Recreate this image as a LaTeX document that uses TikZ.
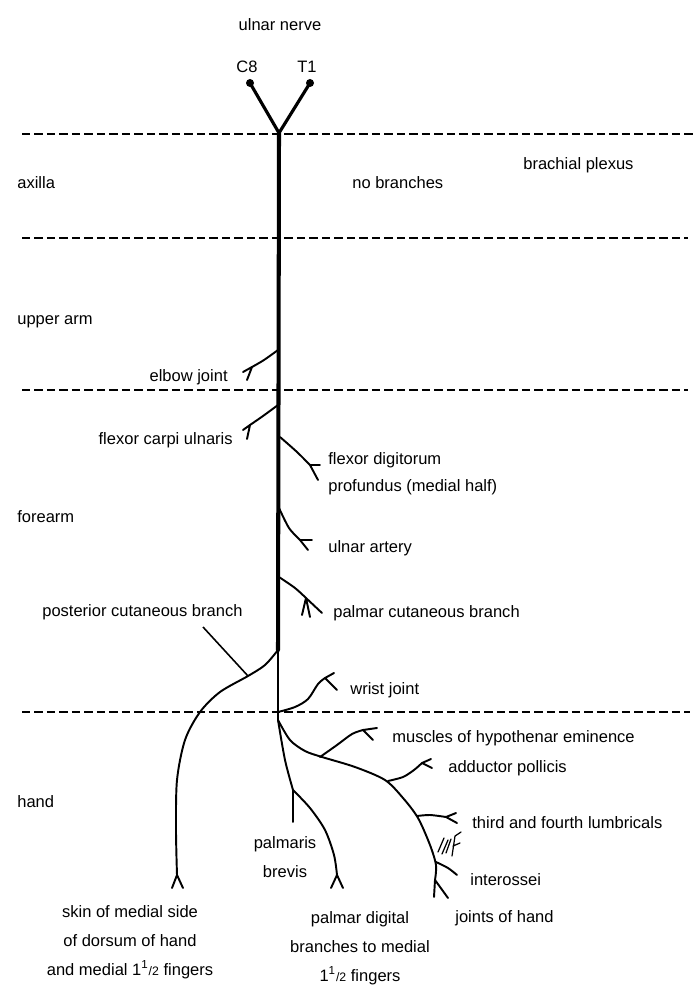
\documentclass[tikz,border=0pt]{standalone}
\usepackage{fontspec}
\setmainfont{Liberation Sans}
\usetikzlibrary{positioning}
\newcommand{\onehalf}{1\textsuperscript{1}{\scriptsize/2}}

\begin{document}
\begin{tikzpicture}[x=0.02cm,y=-0.02cm,inner sep=0pt,
    font=\fontsize{9.4}{16.4}\selectfont,
    trunk/.style={line width=2.3pt,line cap=round},
    root/.style={line width=1.8pt,line cap=round},
    twig/.style={line width=1.1pt,line cap=round,line join=round},
    level/.style={line width=1.2pt,dash pattern=on 0.17cm off 0.08cm},
    lab/.style={anchor=west},
    labr/.style={anchor=east}]
\useasboundingbox (0,0) rectangle (699,986);

% regions
\foreach \y/\e in {134/693,238/688,390/688,712/690}
    \draw[level] (22,\y) -- (\e,\y);

% roots and trunk
\coordinate (c8dot) at (250,83);
\coordinate (t1dot) at (310,83);
\coordinate (join) at (279,133);
\coordinate (mid) at (278,650);
\coordinate (wristpt) at (278,712);
\coordinate (split) at (278,720);
\fill (c8dot) circle (0.08cm);
\fill (t1dot) circle (0.08cm);
\draw[root] (c8dot) -- (join) -- (t1dot);
\draw[trunk] (join) -- (mid);
\draw[twig,line width=1.6pt] (mid) -- (split);

% forearm branches
\draw[twig] plot[smooth] coordinates {(278,350) (264,360) (252,367)};
\draw[twig] (252,367) -- (243,372) (252,367) -- (247,380);
\draw[twig] plot[smooth] coordinates {(278,405) (263,416) (250,425)};
\draw[twig] (250,425) -- (243,430) (250,425) -- (247,439);
\draw[twig] plot[smooth] coordinates {(280,437) (297,452) (310,465)};
\draw[twig] (310,465) -- (320,465) (310,465) -- (318,480);
\draw[twig] plot[smooth] coordinates {(279,508) (289,528) (300,540)};
\draw[twig] (300,540) -- (312,540) (300,540) -- (308,550);
\draw[twig] plot[smooth] coordinates {(279,577) (295,588) (306,598)};
\draw[twig] (306,598) -- (302,615) (306,598) -- (310,617) (306,598) -- (322,613);

% posterior cutaneous branch
\coordinate (pcb) at (248,676);
\draw[twig] plot[smooth] coordinates {(mid) (265,665) (pcb) (220,692) (200,712)
    (185,740) (177,780) (176,830) (177,875)};
\draw[twig] (177,875) -- (172,888) (177,875) -- (183,888);

% wrist joint
\draw[twig] plot[smooth] coordinates {(wristpt) (295,707) (308,699) (318,684) (325,678)};
\draw[twig] (325,678) -- (334,673) (325,678) -- (337,690);

% superficial branch
\coordinate (sup) at (293,790);
\draw[twig] plot[smooth] coordinates {(split) (285,760) (sup)};
\draw[twig] (sup) -- (293,822);
\draw[twig] plot[smooth] coordinates {(sup) (310,808) (325,830) (334,855) (337,875)};
\draw[twig] (337,875) -- (331,888) (337,875) -- (343,888);

% deep branch
\draw[twig] plot[smooth] coordinates {(split) (290,740) (305,751) (322,757) (355,767)
    (385,780) (403,798) (418,818) (430,845) (436,865) (435,880)};
\draw[twig] (435,880) -- (434,897) (435,880) -- (448,898);
\draw[twig] plot[smooth] coordinates {(320,757) (337,745) (352,734) (363,730)};
\draw[twig] (363,730) -- (377,728) (363,730) -- (373,740);
\draw[twig] plot[smooth] coordinates {(388,781) (403,777) (414,770) (422,763)};
\draw[twig] (422,763) -- (431,759) (422,763) -- (432,768);
\draw[twig] plot[smooth] coordinates {(417,816) (430,815) (446,817)};
\draw[twig] (446,817) -- (456,813) (446,817) -- (457,823);
\draw[twig] plot[smooth] coordinates {(436,862) (448,868) (457,875)};
\draw[twig,line width=0.7pt] (438,852) -- (444,838) (442,854) -- (448,840)
    (446,853) -- (451,839) (452,856) -- (455,836) (455,836) -- (461,832)
    (453,846) -- (460,843);

% labels
\node (nerve) at (280,25) {ulnar nerve};
\node (c8) at (247,67) {C8};
\node (t1) at (307,67) {T1};
\node[lab] (axilla) at (17,183) {axilla};
\node[lab] (nobr) at (352,183) {no branches};
\node[lab] (plexus) at (523,165) {brachial plexus};
\node[lab] (upper) at (17,322) {upper arm};
\node[labr] (elbow) at (228,377) {elbow joint};
\node[labr] (fcu) at (233,440) {flexor carpi ulnaris};
\node[lab] (fdp) at (328,460) {flexor digitorum};
\node[lab] (fdph) at (328,487) {profundus (medial half)};
\node[lab] (forearm) at (17,517) {forearm};
\node[lab] (artery) at (328,548) {ulnar artery};
\node[lab] (post) at (42,612) {posterior cutaneous branch};
\node[lab] (palmcut) at (333,613) {palmar cutaneous branch};
\node[lab] (wrist) at (350,690) {wrist joint};
\node[lab] (hand) at (17,802) {hand};
\node[lab] (hypo) at (392,738) {muscles of hypothenar eminence};
\node[lab] (adduct) at (448,768) {adductor pollicis};
\node[lab] (lumb) at (472,823) {third and fourth lumbricals};
\node[lab] (inter) at (470,880) {interossei};
\node[lab] (joints) at (455,918) {joints of hand};
\node[align=center] (brevis) at (285,857) {palmaris\\brevis};
\node[align=center] (skin) at (130,942) {skin of medial side\\of dorsum of hand\\and medial \onehalf\ fingers};
\node[align=center] (digital) at (360,948) {palmar digital\\branches to medial\\\onehalf\ fingers};

\coordinate (lead) at (203,627);
\draw[line width=0.9pt] (lead) -- (pcb);
\end{tikzpicture}
\end{document}
